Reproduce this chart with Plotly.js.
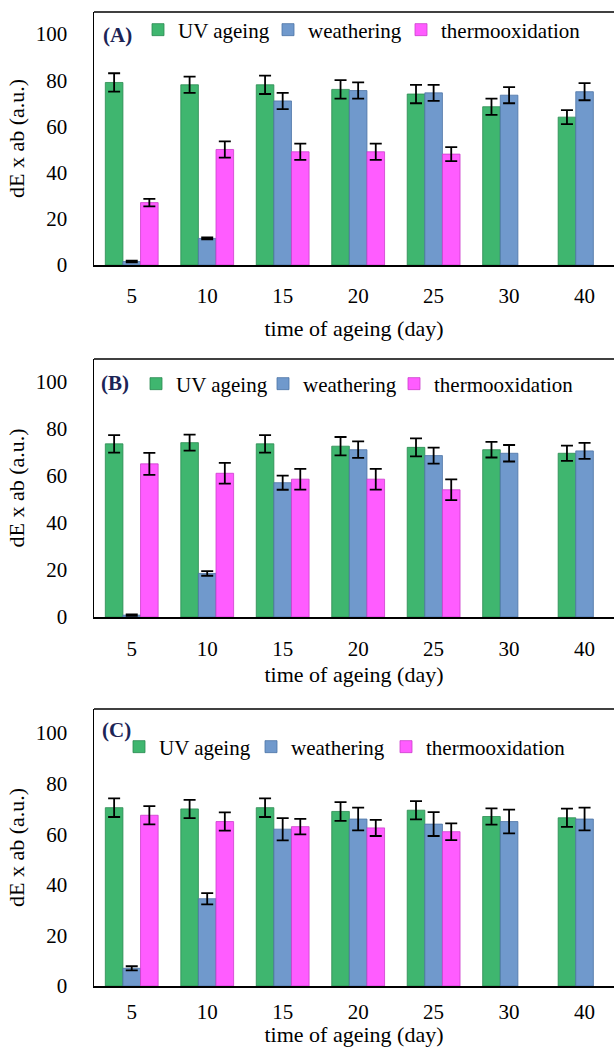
<!DOCTYPE html>
<html>
<head>
<meta charset="utf-8">
<script src="https://cdn.plot.ly/plotly-3.0.1.min.js"></script>
<style>html,body{margin:0;padding:0;background:#fff;}#chart{width:614px;height:1047px;}</style>
</head>
<body>
<div id="chart"></div>
<script>
// categories: time of ageing (day)
const days = ['5', '10', '15', '20', '25', '30', '40'];
const seriesNames = ['UV ageing', 'weathering', 'thermooxidation'];

// Panel A
const uvA = [79, 78, 78, 76, 74, 68.5, 64];
const uvAErr = [4, 3.5, 4, 4, 4, 3.5, 3];
const weathA = [1.5, 11.5, 71, 75.5, 74.5, 73.5, 75];
const weathAErr = [0.4, 0.4, 3.5, 3.5, 3.5, 3.5, 3.7];
const thermoA = [27, 50, 49, 49, 48, null, null];
const thermoAErr = [1.6, 3.5, 3.5, 3.5, 3, null, null];

// Panel B
const uvB = [73.5, 74, 73.5, 72.5, 72, 71, 69.5];
const uvBErr = [3.7, 3.4, 3.7, 3.9, 3.8, 3.3, 3.2];
const weathB = [0.8, 18.5, 57, 71, 68.5, 69.5, 70.5];
const weathBErr = [0.3, 1, 3, 3.5, 3.4, 3.5, 3.4];
const thermoB = [65, 61, 58.5, 58.5, 54, null, null];
const thermoBErr = [4.7, 4.4, 4.4, 4.4, 4.4, null, null];

// Panel C
const uvC = [70.5, 70, 70.5, 69, 69.5, 67, 66.5];
const uvCErr = [3.7, 3.6, 3.7, 3.7, 3.6, 3.2, 3.6];
const weathC = [7, 34.5, 62, 66, 64, 65, 66];
const weathCErr = [0.8, 2.2, 4.4, 4.5, 4.7, 4.7, 4.5];
const thermoC = [67.5, 65, 63, 62.5, 61, null, null];
const thermoCErr = [3.6, 3.6, 3.1, 3.2, 3.3, null, null];

const panelLabels = ['(A)', '(B)', '(C)'];
const yTitle = 'dE x ab (a.u.)';
const xTitle = 'time of ageing (day)';

const colors = ['#3fb66f', '#7099cc', '#ff5cff'];
const edge = ['#2b8a50', '#4d73a6', '#cc3fcc'];
const FONT = '"Liberation Serif", "Times New Roman", serif';

const W = 614, H = 1047, ML = 94, PW = W - ML;
const px = v => (v - ML) / PW;     // pixel x -> paper x
const py = v => 1 - v / H;         // pixel y -> paper y

const panels = [
  {vals: [uvA, weathA, thermoA], errs: [uvAErr, weathAErr, thermoAErr], xa: 'x', ya: 'y', lg: 'legend', lw: [85, 88, 148]},
  {vals: [uvB, weathB, thermoB], errs: [uvBErr, weathBErr, thermoBErr], xa: 'x2', ya: 'y2', lg: 'legend2', lw: [82, 86, 148]},
  {vals: [uvC, weathC, thermoC], errs: [uvCErr, weathCErr, thermoCErr], xa: 'x3', ya: 'y3', lg: 'legend3', lw: [87, 90, 148]}
];

const traces = [];
panels.forEach(p => {
  for (let s = 0; s < 3; s++) {
    traces.push({
      type: 'bar',
      name: seriesNames[s],
      x: days,
      y: p.vals[s],
      xaxis: p.xa,
      yaxis: p.ya,
      legend: p.lg,
      legendwidth: p.lw[s],
      marker: {color: colors[s], line: {color: edge[s], width: 0.8}},
      error_y: {type: 'data', array: p.errs[s], visible: true, color: '#000', thickness: 1.8, width: 6}
    });
  }
});

const doms = [[265, 12], [617, 359], [986, 709]];

function xaxisDef(anchor, labelStandoff, titleStandoff) {
  return {
    anchor: anchor, domain: [0, 1], type: 'category', range: [-0.5, 6.39],
    showline: true, linecolor: '#000', linewidth: 1.5, ticks: '', showgrid: false,
    tickfont: {family: FONT, size: 21, color: '#000'}, ticklabelstandoff: labelStandoff,
    title: {text: xTitle, font: {family: FONT, size: 22, color: '#000'}, standoff: titleStandoff},
    automargin: false, fixedrange: true
  };
}
function yaxisDef(anchor, d) {
  return {
    anchor: anchor, domain: [py(d[0]), py(d[1])], range: [0, 109.5],
    tickvals: [0, 20, 40, 60, 80, 100], ticks: '', showgrid: false, zeroline: false,
    showline: true, linecolor: '#000', linewidth: 1.5,
    tickfont: {family: FONT, size: 21, color: '#000'}, ticklabelstandoff: 21,
    title: {text: yTitle, font: {family: FONT, size: 22, color: '#000'}, standoff: 5},
    automargin: false, fixedrange: true
  };
}
function legendDef(leftPx, yc) {
  return {
    orientation: 'h', x: px(leftPx), xanchor: 'left', y: py(yc), yanchor: 'middle',
    font: {family: FONT, size: 21, color: '#000'}, bgcolor: 'rgba(0,0,0,0)',
    itemwidth: 30, traceorder: 'normal', itemclick: false
  };
}
function labelAnn(text, xc, yc) {
  return {text: '<b>' + text + '</b>', xref: 'paper', yref: 'paper', x: px(xc), y: py(yc),
    xanchor: 'center', yanchor: 'middle',
    showarrow: false, font: {family: FONT, size: 21, color: '#1c2456'}};
}
function topLine(xd, yd) {
  return {type: 'line', xref: xd + ' domain', yref: yd + ' domain', x0: 0, x1: 1.05, y0: 1, y1: 1,
    line: {color: '#000', width: 1.5}};
}

const layout = {
  width: W, height: H,
  margin: {l: ML, r: 0, t: 0, b: 0, autoexpand: false},
  paper_bgcolor: '#fff', plot_bgcolor: '#fff',
  showlegend: true,
  barmode: 'group', bargap: 0.3, bargroupgap: 0,
  xaxis: xaxisDef('y', 11, 14),
  xaxis2: xaxisDef('y2', 12, 7),
  xaxis3: xaxisDef('y3', 6, 6),
  yaxis: yaxisDef('x', doms[0]),
  yaxis2: yaxisDef('x2', doms[1]),
  yaxis3: yaxisDef('x3', doms[2]),
  legend: legendDef(138, 30),
  legend2: legendDef(136, 384),
  legend3: legendDef(119, 747),
  annotations: [
    labelAnn(panelLabels[0], 117, 34.5),
    labelAnn(panelLabels[1], 115, 382.5),
    labelAnn(panelLabels[2], 116, 730)
  ],
  shapes: [topLine('x', 'y'), topLine('x2', 'y2'), topLine('x3', 'y3')]
};

Plotly.newPlot('chart', traces, layout, {staticPlot: true, displayModeBar: false});
</script>
</body>
</html>
